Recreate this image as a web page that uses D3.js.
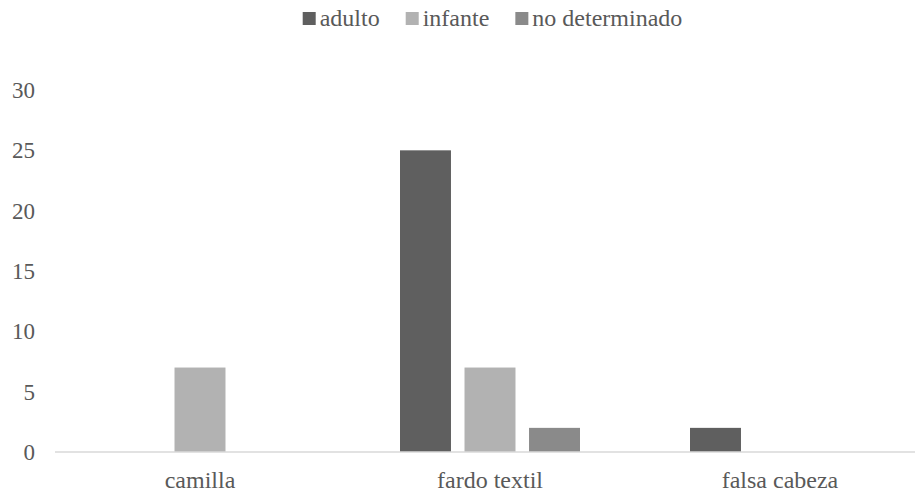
<!DOCTYPE html>
<html>
<head>
<meta charset="utf-8">
<script src="https://cdn.jsdelivr.net/npm/d3@7"></script>
<style>
  body { margin: 0; background: #fff; }
  text { font-family: "Liberation Serif", "Times New Roman", serif; fill: #595959; }
</style>
</head>
<body>
<div id="chart"></div>
<script>
// data
const categories = ["camilla", "fardo textil", "falsa cabeza"];
const series = ["adulto", "infante", "no determinado"];
const adulto = [0, 25, 2];
const infante = [7, 7, 0];
const noDeterminado = [0, 2, 0];
const yTicks = [0, 5, 10, 15, 20, 25, 30];
const colors = ["#5f5f5f", "#b2b2b2", "#8a8a8a"];

const width = 915, height = 495;
const values = [adulto, infante, noDeterminado];

const svg = d3.select("#chart")
  .append("svg")
  .attr("width", width)
  .attr("height", height);

// scales
const x0 = d3.scaleBand()
  .domain(categories)
  .range([55, 925])
  .padding(0);

const x1 = d3.scaleBand()
  .domain(series)
  .range([-90, 90])
  .paddingInner(0.21)
  .paddingOuter(0);

const y = d3.scaleLinear()
  .domain([0, 30])
  .range([452, 90]);

// y tick labels (no axis line, no gridlines)
svg.append("g")
  .selectAll("text")
  .data(yTicks)
  .enter()
  .append("text")
    .attr("x", 35)
    .attr("y", d => y(d))
    .attr("dy", "0.35em")
    .attr("text-anchor", "end")
    .attr("font-size", "23px")
    .text(d => d);

// bars
categories.forEach((c, ci) => {
  series.forEach((s, si) => {
    const v = values[si][ci];
    if (!v) return;
    svg.append("rect")
      .attr("x", x0(c) + x0.bandwidth() / 2 + x1(s))
      .attr("y", y(v))
      .attr("width", x1.bandwidth())
      .attr("height", y(0) - y(v))
      .attr("fill", colors[si]);
  });
});

// baseline
svg.append("line")
  .attr("x1", 55)
  .attr("x2", width)
  .attr("y1", y(0))
  .attr("y2", y(0))
  .attr("stroke", "#d9d9d9")
  .attr("stroke-width", 1.5);

// category labels
svg.append("g")
  .selectAll("text")
  .data(categories)
  .enter()
  .append("text")
    .attr("x", d => x0(d) + x0.bandwidth() / 2)
    .attr("y", 488)
    .attr("text-anchor", "middle")
    .attr("font-size", "24px")
    .text(d => d);

// legend, centred at the top
const legend = svg.append("g");
let lx = 0;
series.forEach((s, i) => {
  const item = legend.append("g").attr("transform", `translate(${lx},0)`);
  item.append("rect")
    .attr("x", 0).attr("y", 12)
    .attr("width", 13).attr("height", 13)
    .attr("fill", colors[i]);
  const t = item.append("text")
    .attr("x", 17).attr("y", 26)
    .attr("font-size", "24px")
    .text(s);
  lx += 17 + t.node().getComputedTextLength() + 26;
});
const lw = lx - 26;
legend.attr("transform", `translate(${492.5 - lw / 2},0)`);
</script>
</body>
</html>
